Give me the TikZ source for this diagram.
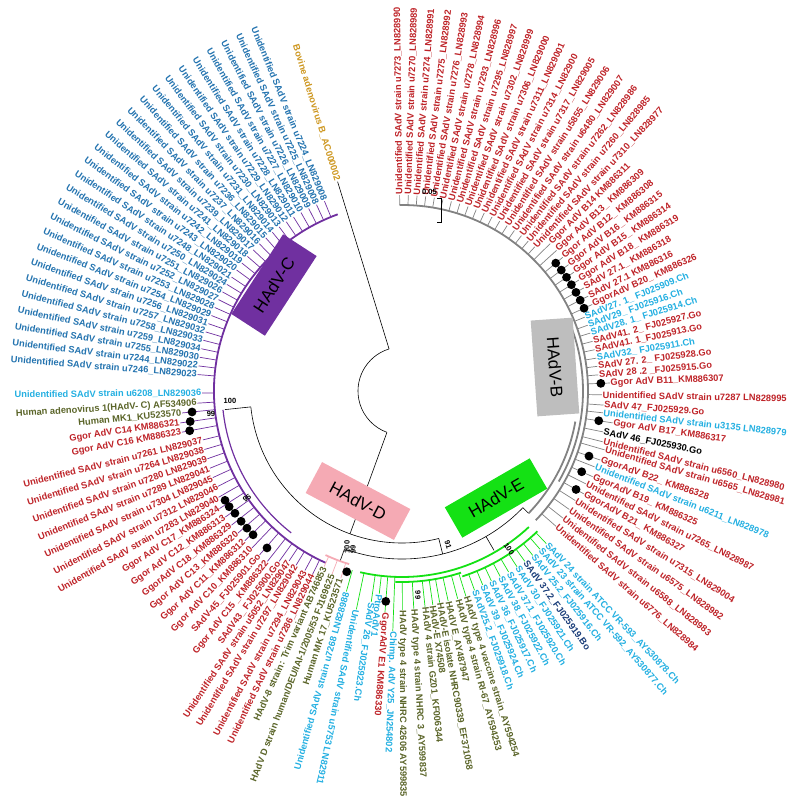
\documentclass[tikz,border=0pt]{standalone}
\usepackage{fontspec}
\setmainfont{Liberation Sans}
\definecolor{cred}{RGB}{190,35,40}
\definecolor{cblue}{RGB}{35,115,175}
\definecolor{ccyan}{RGB}{35,175,225}
\definecolor{colive}{RGB}{90,100,40}
\definecolor{cgold}{RGB}{205,150,30}
\definecolor{cdkblue}{RGB}{25,60,120}
\definecolor{cpurple}{RGB}{112,48,160}
\definecolor{cgrayarc}{RGB}{130,130,130}
\definecolor{cgraybox}{RGB}{190,190,190}
\definecolor{cgreen}{RGB}{20,225,20}
\definecolor{cpink}{RGB}{245,170,180}
\newcommand\US{Unidentified SAdV strain }
\newcounter{lc}
\def\ar{186}\def\tc{cgrayarc}
\newcommand{\tipR}[4][205]{\stepcounter{lc}\draw[\tc,line width=0.7pt] (#2:\ar) -- (#2:#1);\node[lab,text=#3,anchor=west,rotate=#2] (t\arabic{lc}) at (#2:#1) {#4};}
\newcommand{\tipL}[4][205]{\stepcounter{lc}\pgfmathsetmacro\myrot{#2+180}\draw[\tc,line width=0.7pt] (#2:\ar) -- (#2:#1);\node[lab,text=#3,anchor=east,rotate=\myrot] (t\arabic{lc}) at (#2:#1) {#4};}
\newcommand{\dotat}[2]{\fill[black] (#1:#2) circle (4.4);}
\newcommand{\carc}[4]{\draw[#1] (#2:#4) arc[start angle=#2,end angle=#3,radius=#4];}
\begin{document}
\begin{tikzpicture}[x=1pt,y=1pt,
  lab/.style={font=\fontsize{9.3}{10}\selectfont\bfseries,inner sep=0.6pt},
  boot/.style={font=\fontsize{7.5}{8}\selectfont\bfseries,inner sep=0pt},
  cladebox/.style={font=\fontsize{17}{18}\selectfont,inner sep=0pt,minimum height=35,text=black},
  tree/.style={black,line width=0.6pt}]
\useasboundingbox (-402,-410) rectangle (391,391);
% ---- backbone
\carc{tree}{107}{250}{44}
\draw[tree] (107.1:44) -- (107.1:219);
\draw[tree] (250:44) -- (250:152);
\carc{tree}{186}{284}{152}
\draw[tree] (186:152) -- (186:178);
\draw[tree] (284:152) -- (284:168);
\carc{tree}{250}{316}{168}
\draw[tree] (250:168) -- (250:181);
\draw[tree] (300:168) -- (300:184);
\draw[tree] (316:168) -- (316:176);
% ---- clade arcs
\carc{cgrayarc,line width=1.8pt}{90.7}{-44}{186}
\carc{cgrayarc,line width=1.8pt}{-44}{-10}{176}
\carc{cgrayarc,line width=1.8pt}{-30}{20}{181}
\carc{cpurple,line width=1.8pt}{110}{246}{188}
\carc{cpurple,line width=1.2pt}{186}{232}{180}
\carc{cgreen,line width=1.8pt}{-103}{-47}{186}
\carc{cgreen,line width=1.8pt}{-72}{-46}{195}
\carc{cgreen,line width=1.8pt}{-92}{-72}{191}
\carc{cpink,line width=1.8pt}{245}{253}{181}
% ---- HAdV-B
\def\ar{186}\def\tc{cgrayarc}
\tipR[196]{90.7}{cred}{\US u7273\_LN828990}
\tipR[196]{88.15}{cred}{\US u7270\_LN828989}
\tipR[196]{85.6}{cred}{\US u7274\_LN828991}
\tipR[196]{83.05}{cred}{\US u7275\_LN828992}
\tipR[196]{80.5}{cred}{\US u7276\_LN828993}
\tipR[196]{77.95}{cred}{\US u7278\_LN828994}
\tipR[196]{75.4}{cred}{\US u7293\_LN828996}
\tipR[196]{72.85}{cred}{\US u7295\_LN828997}
\tipR[196]{70.3}{cred}{\US u7302\_LN828999}
\tipR[196]{67.75}{cred}{\US u7306\_LN829000}
\tipR[196]{65.2}{cred}{\US u7311\_LN829001}
\tipR[196]{62.65}{cred}{\US u7314\_LN82900}
\tipR[196]{60.1}{cred}{\US u7317\_LN829005}
\tipR[196]{57.55}{cred}{\US u5855\_LN829006}
\tipR[196]{55.0}{cred}{\US u6480\_LN829007}
\tipR[196]{52.45}{cred}{\US u7262\_LN828986}
\tipR[196]{49.9}{cred}{\US u7260\_LN828985}
\tipR[196]{47.35}{cred}{\US u7310\_LN828977}
\tipR[209]{44.85}{cred}{Ggor AdV B14 KM886311}
\tipR[209]{42.3}{cred}{Ggor AdV B13\_ KM886309}
\tipR[209]{39.75}{cred}{Ggor AdV B12\_ KM886308}
\tipR[209]{37.2}{cred}{Ggor AdV B16\_ KM886315}
\tipR[209]{34.65}{cred}{Ggor AdV B15\_ KM886314}
\tipR[209]{32.1}{cred}{Ggor AdV B18\_ KM886319}
\tipR[209]{29.55}{cred}{SAdV 27.1\_ KM886318}
\tipR[209]{27.0}{cred}{SAdV 27.1 KM886316}
\tipR[209]{24.45}{cred}{GgorAdV B20\_ KM886326}
\tipR[197]{22.0}{ccyan}{SAdV27. 1\_ FJ025909.Ch}
\tipR[197]{19.5}{ccyan}{SAdV29\_ FJ025916.Ch}
\tipR[197]{17.1}{ccyan}{SAdV28. 1\_ FJ025914.Ch}
\tipR[197]{14.6}{cred}{SAdV41. 2\_ FJ025927.Go}
\tipR[197]{12.1}{cred}{SAdV41. 1\_FJ025913.Go}
\tipR[197]{9.6}{ccyan}{SAdV32\_ FJ025911.Ch}
\tipR[197]{7.2}{cred}{SAdV 27. 2\_ FJ025928.Go}
\tipR[197]{4.7}{cred}{SAdV 28 .2 \_FJ025915.Go}
\tipR[208]{2.2}{cred}{Ggor AdV B11\_KM886307}
\tipR[200]{-1.1}{cred}{\US u7287 LN828995}
\tipR[202]{-4.0}{cred}{SAdV 47\_FJ025929.Go}
\tipR[202]{-6.2}{ccyan}{\US u3135 LN828979}
\tipR[213]{-8.6}{cred}{Ggor AdV B17\_KM886317}
\tipR[205]{-11.5}{black}{SAdV 46\_FJ025930.Go}
\tipR[207]{-14.2}{cred}{\US u6560\_LN828980}
\tipR[211]{-16.2}{cred}{\US u6565\_LN828981}
\tipR[210]{-19.2}{cred}{GgorAdV B22\_ KM886328}
\tipR[207]{-21.5}{ccyan}{\US u6211\_LN828978}
\tipR[209]{-24.2}{cred}{GgorAdV B19\_ KM886325}
\tipR[206]{-26.8}{cred}{\US u7265\_LN828987}
\tipR[209]{-29.5}{cred}{GgorAdV B21\_ KM886327}
\tipR[205]{-32.3}{cred}{\US u7315\_LN829004}
\tipR[205]{-35.3}{cred}{\US u6575\_LN828982}
\tipR[205]{-38.3}{cred}{\US u6588\_LN828983}
\tipR[205]{-41.3}{cred}{\US u6776\_LN828984}
\dotat{37.2}{200}\dotat{34.65}{200}\dotat{32.1}{200}\dotat{29.55}{200}\dotat{27.0}{200}\dotat{24.45}{200}\dotat{39.75}{200}
\dotat{2.2}{199}\dotat{-8.6}{199}\dotat{-19.2}{198}\dotat{-24.2}{197}\dotat{-29.5}{200}
% ---- HAdV-E
\def\ar{195}\def\tc{cgreen}
\tipR[210]{-46.6}{ccyan}{SAdV 24 strain ATCC VR-593\_AY530878.Ch}
\tipR[210]{-48.9}{ccyan}{SAdV 23 strain ATCC VR-592\_AY530877.Ch}
\tipR[210]{-51.5}{ccyan}{SAdV 25.2\_FJ025916.Ch}
\tipR[210]{-54.2}{cdkblue}{SAdV 37.2\_FJ025919.Bo}
\tipR[210]{-56.8}{ccyan}{SAdV 30\_FJ025921.Ch}
\tipR[210]{-59.5}{ccyan}{SAdV 37.1\_FJ025920.Ch}
\tipR[210]{-62.1}{ccyan}{SAdV 38\_FJ025922.Ch}
\tipR[210]{-64.8}{ccyan}{SAdV 36\_FJ025917.Ch}
\tipR[210]{-67.4}{ccyan}{SAdV 39\_FJ025924.Ch}
\tipR[212]{-70.0}{ccyan}{SAdV25.2\_FJ025918.Ch}
\def\ar{191}
\tipR[215]{-72.7}{colive}{HAdV type 4 vaccine strain\_AY594254}
\tipR[215]{-75.0}{colive}{HAdV type 4 strain RI-67\_AY594253}
\tipR[215]{-77.6}{colive}{HAdV E\_AY487947}
\tipR[215]{-79.9}{colive}{HAdV-E isolate NHRC90339\_EF371058}
\tipR[216]{-81.8}{colive}{HAdV-E X74508}
\tipR[217]{-83.9}{colive}{HAdV 4 strain GZ01\_KF006344}
\tipR[218]{-86.9}{colive}{HAdV type 4 strain NHRC 3\_AY599837}
\tipR[219]{-89.9}{colive}{HAdV type 4 strain NHRC 42606 AY599835}
\def\ar{186}
\tipR[240]{-92.2}{ccyan}{Chimp. AdV Y25\_JN254802}
\tipR[222]{-94.4}{cred}{GgorAdV E1 KM886330}
\tipR[204]{-96.4}{ccyan}{PtroAdV1}
\tipR[213]{-98.3}{ccyan}{SAdV 26\_FJ025923.Ch}
\tipR[223]{-101.8}{ccyan}{\US u5753 LN82911}
\tipL[208]{-105.5}{ccyan}{\US u7268 LN828988}
\dotat{-94.4}{211}
% ---- HAdV-D
\def\ar{181}\def\tc{cpink}
\tipL[197]{-108.1}{colive}{Human MK 17\_KU523571}
\tipL[196]{-110.9}{colive}{HAdV D strain human/DEU/IAI-1/2005/53 FJ169625}
\tipL[192]{-113.9}{colive}{HAdV-8 strain: Trim variant AB746853}
\dotat{-107}{189}
% ---- HAdV-C
\def\ar{188}\def\tc{cpurple}
\tipL[204]{244.0}{cred}{\US u7286\_LN829044}
\tipL[204]{241.6}{cred}{\US u7294\_LN829043}
\tipL[204]{238.7}{cred}{\US u7297\_LN829042}
\tipL[204]{236.4}{cred}{\US u5052\_LN829047}
\tipL[210]{234.2}{cred}{SAdV43\_ FJ025900.Go}
\tipL[217]{231.7}{cred}{Ggor AdV C15 \_KM886322}
\tipL[217]{229.0}{cred}{SAdV-45\_FJ025901.Go}
\tipL[217]{226.3}{cred}{Ggor AdV C10\_KM886310}
\tipL[217]{223.6}{cred}{Ggor AdV C11\_KM886312}
\tipL[217]{220.9}{cred}{Ggor AdV C13\_KM886320}
\tipL[217]{218.2}{cred}{GgorAdV C18\_KM886329}
\tipL[217]{215.5}{cred}{Ggor AdV C12\_KM886313}
\tipL[217]{212.8}{cred}{Ggor AdV C17\_KM886324}
\tipL[212]{210.1}{cred}{\US u7283 LN829040}
\tipL[207]{207.4}{cred}{\US u7312 LN829046}
\tipL[208]{204.6}{cred}{\US u7304 LN829045}
\tipL[207]{201.9}{cred}{\US u7289 LN829041}
\tipL[206]{199.2}{cred}{\US u7280 LN829039}
\tipL[206]{196.5}{cred}{\US u7264 LN829038}
\tipL[205]{193.8}{cred}{\US u7261 LN829037}
\tipL[224]{190.6}{cred}{Ggor AdV C16 KM886323}
\tipL[224]{188.2}{cred}{Ggor AdV C14 KM886321}
\tipL[221]{185.7}{colive}{Human MK1\_KU523570}
\tipL[205]{183.4}{colive}{Human adenovirus 1(HAdV- C) AF534906}
\tipL[200]{180.6}{ccyan}{\US u6208\_LN829036}
\tipL[205]{175.40}{cblue}{\US u7246\_LN829023}
\tipL[205]{172.97}{cblue}{\US u7244\_LN829022}
\tipL[205]{170.54}{cblue}{\US u7255\_LN829030}
\tipL[205]{168.11}{cblue}{\US u7259\_LN829034}
\tipL[205]{165.68}{cblue}{\US u7258\_LN829033}
\tipL[205]{163.25}{cblue}{\US u7257\_LN829032}
\tipL[205]{160.82}{cblue}{\US u7256\_LN829031}
\tipL[205]{158.39}{cblue}{\US u7254\_LN829029}
\tipL[205]{155.96}{cblue}{\US u7253\_LN829028}
\tipL[205]{153.53}{cblue}{\US u7252\_LN829027}
\tipL[205]{151.10}{cblue}{\US u7251\_LN829026}
\tipL[205]{148.67}{cblue}{\US u7250\_LN829024}
\tipL[205]{146.24}{cblue}{\US u7248\_LN829021}
\tipL[205]{143.81}{cblue}{\US u7243\_LN829020}
\tipL[205]{141.38}{cblue}{\US u7242\_LN829019}
\tipL[205]{138.95}{cblue}{\US u7241\_LN829018}
\tipL[205]{136.52}{cblue}{\US u7239\_LN829017}
\tipL[205]{134.09}{cblue}{\US u7237\_LN829016}
\tipL[205]{131.66}{cblue}{\US u7236\_LN829015}
\tipL[205]{129.23}{cblue}{\US u7231\_LN829014}
\tipL[205]{126.80}{cblue}{\US u7230\_LN829013}
\tipL[205]{124.37}{cblue}{\US u7229\_LN829012}
\tipL[205]{121.94}{cblue}{\US u7228\_LN829011}
\tipL[205]{119.51}{cblue}{\US u7227\_LN829010}
\tipL[205]{117.08}{cblue}{\US u7226\_LN829009}
\tipL[205]{114.65}{cblue}{\US u7225\_LN829008}
\tipL[205]{112.22}{cblue}{\US u7224\_LN829008}
\node[lab,text=cgold,anchor=east,rotate=287.1] (bov) at (107.1:219) {Bovine adenovirus B\_AC000002};
\dotat{185.7}{211}\dotat{188.2}{214}\dotat{190.6}{216}
\dotat{211.7}{208}\dotat{213.8}{208}\dotat{216.2}{207}\dotat{219}{207}\dotat{221.5}{207}\dotat{224}{207}\dotat{229.3}{207}
% ---- bootstrap values
\node[boot] (b1) at (-172,-10) {100};
\node[boot] (b2) at (-191,-23) {99};
\node[boot,rotate=35] (b3) at (-155,-107) {95};
\node[boot,rotate=-72] (b4) at (46,-154) {91};
\node[boot,rotate=-55] (b5) at (107,-158) {100};
\node[boot,rotate=90] (b6) at (-55,-156) {100};
\node[boot,rotate=90] (b7) at (-49,-158) {99};
\node[boot,rotate=-90] (b8) at (16,-204) {99};
% ---- scale bar
\node[boot,anchor=east] (sc) at (35,199) {0.05};
\draw[black,line width=0.6pt] (35,193) -- (39,193) -- (39,169) -- (35,169);
% ---- clade boxes
\node[cladebox,fill=cpurple,minimum width=95,minimum height=40,rotate=57] (bc) at (-128,106) {HAdV-C};
\node[cladebox,fill=cgraybox,minimum width=96,minimum height=42,rotate=-86] (bb) at (153,24) {HAdV-B};
\node[cladebox,fill=cpink,minimum width=100,rotate=-28] (bd) at (-44,-110) {HAdV-D};
\node[cladebox,fill=cgreen,minimum width=98,rotate=30] (be) at (94,-107) {HAdV-E};
\end{tikzpicture}
\end{document}
